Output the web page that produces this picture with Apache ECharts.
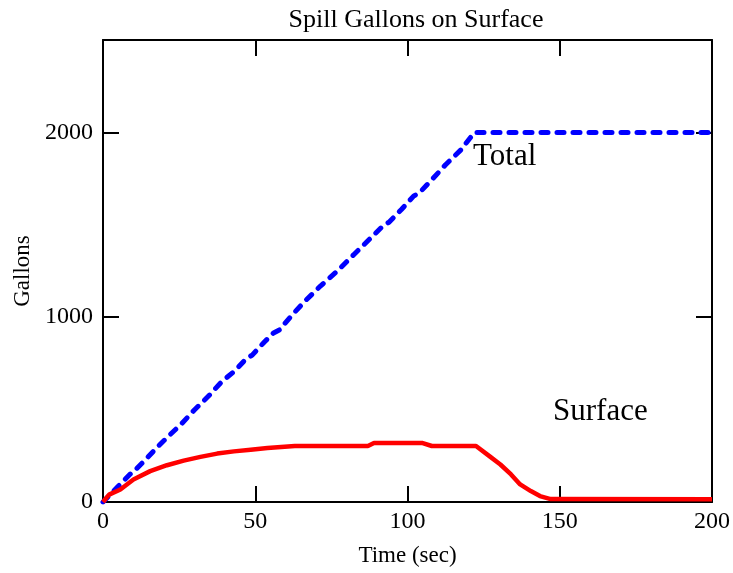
<!DOCTYPE html>
<html>
<head>
<meta charset="utf-8">
<script src="https://cdn.jsdelivr.net/npm/echarts@6/dist/echarts.min.js"></script>
<style>
  html, body { margin: 0; padding: 0; background: #fff; }
  #spill { width: 733px; height: 573px; }
</style>
</head>
<body>
<div id="spill"></div>
<script>
// values (time in sec, gallons)
var totalTime = [0, 5, 9.5, 10.5, 14, 18, 22, 26, 30, 35, 39, 43.5, 47, 49, 53, 56, 58, 62, 66.5, 71.5, 77, 82.5, 88, 92, 94, 98, 102, 104, 108, 112.5, 117.5, 122, 200]
var totalGal = [0, 85, 160, 172, 230, 300, 364, 427, 498, 579, 651, 713, 775, 795, 866, 915, 932, 1010, 1090, 1170, 1251, 1341, 1430, 1495, 1515, 1583, 1655, 1675, 1744, 1825, 1905, 2000, 2000]

var surfTime = [0, 2, 5.7, 10, 15.5, 21, 26.5, 32, 37.5, 43, 48.5, 54, 63, 87, 89, 105, 108, 122.5, 127, 130.5, 134, 137, 140.5, 143.5, 147, 200]
var surfGal = [0, 40, 68, 122, 167, 199, 224, 244, 262, 274, 283, 292, 303, 303, 319, 319, 303, 303, 247, 203, 149, 95, 59, 32, 16, 15]

var xTicks = [0, 50, 100, 150, 200]
var yTicks = [0, 1000, 2000]

function pairs(xs, ys) {
    return xs.map(function (x, i) { return [x, ys[i]] })
}

var font = 'Liberation Serif'
var myChart = echarts.init(document.getElementById('spill'))

var frame = { show: true, onZero: false, lineStyle: { color: '#000', width: 2 } }
var tick = { show: true, inside: true, length: 16, lineStyle: { color: '#000', width: 2 } }
var plain = function (v) { return String(v) }

const option = {
    animation: false,
    title: {
        text: 'Spill Gallons on Surface',
        left: 411,
        textAlign: 'center',
        top: 2,
        textStyle: { fontFamily: font, fontSize: 26, fontWeight: 'normal', color: '#000' }
    },
    grid: { left: 103, right: 20, top: 40, bottom: 71 },
    xAxis: [
        {
            type: 'value', min: xTicks[0], max: xTicks[xTicks.length - 1], interval: 50,
            axisLine: frame, axisTick: tick, splitLine: { show: false },
            axisLabel: { color: '#000', fontFamily: font, fontSize: 24, margin: 8, formatter: plain },
            name: 'Time (sec)', nameLocation: 'middle', nameGap: 42,
            nameTextStyle: { color: '#000', fontFamily: font, fontSize: 23 }
        },
        {
            type: 'value', position: 'top', min: 0, max: 200, interval: 50,
            axisLine: frame, axisTick: tick, axisLabel: { show: false }, splitLine: { show: false }
        }
    ],
    yAxis: [
        {
            type: 'value', min: yTicks[0], max: 2500, interval: 1000,
            axisLine: frame, axisTick: tick, splitLine: { show: false },
            axisLabel: { color: '#000', fontFamily: font, fontSize: 24, margin: 10, showMaxLabel: false, formatter: plain },
            name: 'Gallons', nameLocation: 'middle', nameGap: 68,
            nameTextStyle: { color: '#000', fontFamily: font, fontSize: 23 }
        },
        {
            type: 'value', position: 'right', min: 0, max: 2500, interval: 1000,
            axisLine: frame, axisTick: tick, axisLabel: { show: false }, splitLine: { show: false }
        }
    ],
    series: [
        {
            name: 'Total', type: 'line', data: pairs(totalTime, totalGal),
            symbol: 'none', z: 3,
            lineStyle: { color: '#0000ff', width: 5, type: [7, 9], cap: 'round' }
        },
        {
            name: 'Surface', type: 'line', data: pairs(surfTime, surfGal),
            symbol: 'none', z: 4,
            lineStyle: { color: '#ff0000', width: 4.5 }
        }
    ],
    graphic: [
        { type: 'text', left: 473, top: 141, style: { text: 'Total', font: '31px "Liberation Serif"', fill: '#000' } },
        { type: 'text', left: 553, top: 396, style: { text: 'Surface', font: '31px "Liberation Serif"', fill: '#000' } }
    ]
}

myChart.setOption(option)
</script>
</body>
</html>
